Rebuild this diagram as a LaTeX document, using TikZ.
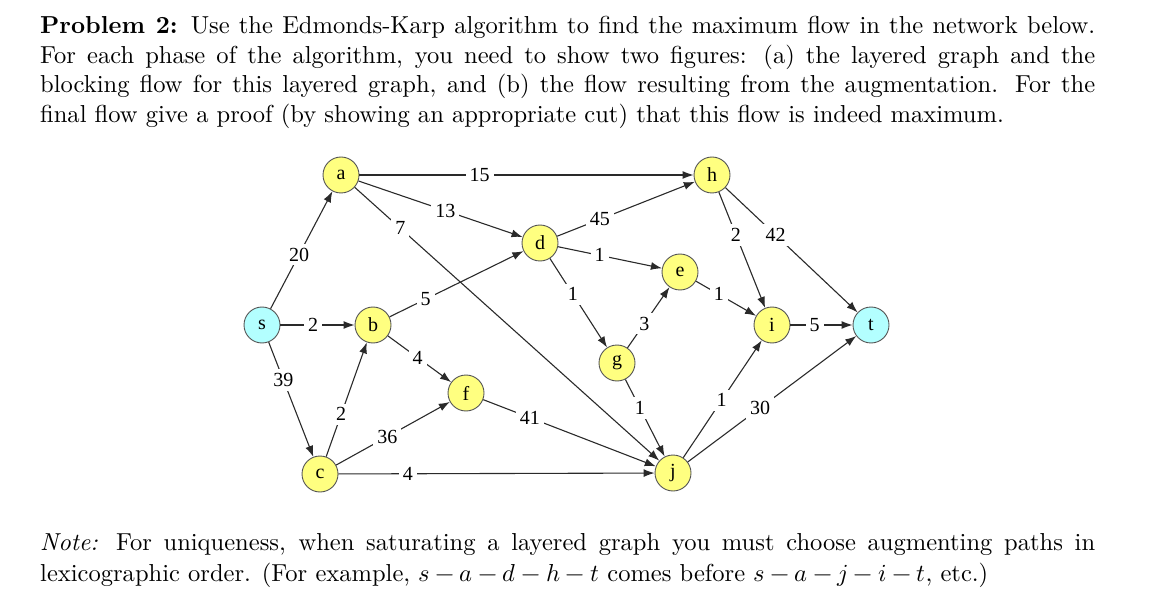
\documentclass[tikz,border=0pt]{standalone}
\usepackage{fontspec}
\usepackage{unicode-math}
\usepackage{graphicx}
\newfontfamily\graphfont{Liberation Serif}
\usetikzlibrary{arrows.meta}
\definecolor{nodeyellow}{HTML}{FFFF80}
\definecolor{nodecyan}{HTML}{B3FFFF}
\definecolor{edgegray}{HTML}{2A2A2A}
\definecolor{bordergray}{HTML}{555555}
\newlength{\tw}
\setlength{\tw}{430pt}
\newcommand{\bigtext}[1]{\scalebox{2.4535}{#1}}
\tikzset{
  vtx/.style={circle, draw=bordergray, line width=0.9pt, minimum size=36pt, inner sep=0pt, fill=nodeyellow, font=\graphfont\fontsize{20}{20}\selectfont},
  term/.style={vtx, fill=nodecyan},
  arc/.style={draw=edgegray, line width=1.1pt, -{Latex[length=11pt,width=8pt]}},
  lab/.style={fill=white, inner sep=4pt, font=\graphfont\fontsize{20}{20}\selectfont},
  txt/.style={anchor=base west, inner sep=0pt, font=\fontsize{10}{12}\selectfont}
}
\begin{document}
\begin{tikzpicture}[x=1pt,y=-1pt]
\useasboundingbox (0,0) rectangle (1158,601);
% text
\node[txt] (l1) at (40,34) {\bigtext{\makebox[\tw][s]{\textbf{Problem 2:} Use the Edmonds-Karp algorithm to find the maximum flow in the network below.}}};
\node[txt] (l2) at (40,63.5) {\bigtext{\makebox[\tw][s]{For each phase of the algorithm, you need to show two figures: (a) the layered graph and the}}};
\node[txt] (l3) at (40,93) {\bigtext{\makebox[\tw][s]{blocking flow for this layered graph, and (b) the flow resulting from the augmentation. For the}}};
\node[txt] (l4) at (40,122.5) {\bigtext{final flow give a proof (by showing an appropriate cut) that this flow is indeed maximum.}};
\node[txt] (n1) at (40,550) {\bigtext{\makebox[\tw][s]{\textit{Note:} For uniqueness, when saturating a layered graph you must choose augmenting paths in}}};
\node[txt] (n2) at (40,581.5) {\bigtext{lexicographic order. (For example, $s-a-d-h-t$ comes before $s-a-j-i-t$, etc.)}};
% nodes
\node[term] (s) at (262,325) {s};
\node[vtx] (a) at (341,175) {a};
\node[vtx] (b) at (373,325) {b};
\node[vtx] (c) at (320,474) {c};
\node[vtx] (d) at (540,243) {d};
\node[vtx] (e) at (680,272) {e};
\node[vtx] (f) at (466,393) {f};
\node[vtx] (g) at (617,363) {g};
\node[vtx] (h) at (712,175) {h};
\node[vtx] (i) at (772,325) {i};
\node[vtx] (j) at (673,473) {j};
\node[term] (t) at (871,325) {t};
% edges
\draw[arc] (s) -- node[lab,pos=.46] (ls-a) {20} (a);
\draw[arc] (s) -- node[lab,pos=.44] (ls-b) {2} (b);
\draw[arc] (s) -- node[lab,pos=.33] (ls-c) {39} (c);
\draw[arc] (a) -- node[lab,pos=.36] (la-h) {15} (h);
\draw[arc] (a) -- node[lab,pos=.53] (la-d) {13} (d);
\draw[arc] (a) -- node[lab,pos=.15] (la-j) {7} (j);
\draw[arc] (b) -- node[lab,pos=.27] (lb-d) {5} (d);
\draw[arc] (b) -- node[lab,pos=.47] (lb-f) {4} (f);
\draw[arc] (c) -- node[lab,pos=.37] (lc-b) {2} (b);
\draw[arc] (c) -- node[lab,pos=.45] (lc-f) {36} (f);
\draw[arc] (c) -- node[lab,pos=.22] (lc-j) {4} (j);
\draw[arc] (f) -- node[lab,pos=.27] (lf-j) {41} (j);
\draw[arc] (d) -- node[lab,pos=.31] (ld-h) {45} (h);
\draw[arc] (d) -- node[lab,pos=.40] (ld-e) {1} (e);
\draw[arc] (d) -- node[lab,pos=.40] (ld-g) {1} (g);
\draw[arc] (g) -- node[lab,pos=.40] (lg-e) {3} (e);
\draw[arc] (g) -- node[lab,pos=.37] (lg-j) {1} (j);
\draw[arc] (e) -- node[lab,pos=.38] (le-i) {1} (i);
\draw[arc] (h) -- node[lab,pos=.37] (lh-i) {2} (i);
\draw[arc] (h) -- node[lab,pos=.38] (lh-t) {42} (t);
\draw[arc] (i) -- node[lab,pos=.39] (li-t) {5} (t);
\draw[arc] (j) -- node[lab,pos=.49] (lj-i) {1} (i);
\draw[arc] (j) -- node[lab,pos=.43] (lj-t) {30} (t);
\end{tikzpicture}
\end{document}
